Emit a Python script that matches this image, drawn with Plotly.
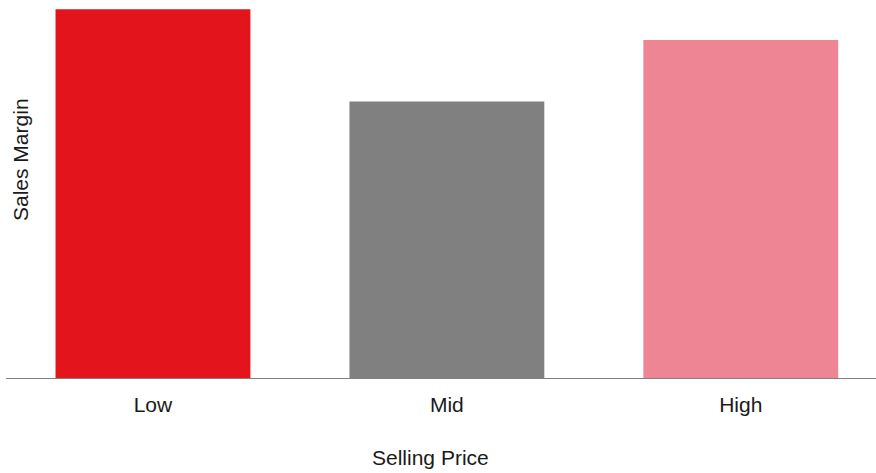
import plotly.graph_objects as go

# Sales margin by selling-price tier
categories = ["Low", "Mid", "High"]
margins = [12, 9, 11]
bar_colors = ["#E3141C", "#808080", "#EE8594"]

fig = go.Figure(
    go.Bar(
        x=categories,
        y=margins,
        marker=dict(color=bar_colors, line=dict(width=0)),
        hoverinfo="x+y",
    )
)

font = dict(family="Liberation Sans, Arial, sans-serif", size=21, color="#1a1a1a")

fig.update_layout(
    width=876,
    height=473,
    margin=dict(l=6, r=0, t=0, b=95),
    paper_bgcolor="white",
    plot_bgcolor="white",
    bargap=0.337,
    showlegend=False,
    font=font,
    xaxis=dict(
        range=[-0.5, 2.46],
        showline=True,
        linecolor="#808080",
        linewidth=1,
        showgrid=False,
        zeroline=False,
        ticks="",
        ticklabelstandoff=8,
        tickfont=font,
        automargin=False,
        fixedrange=True,
    ),
    yaxis=dict(
        range=[0, 12.3],
        showline=False,
        showgrid=False,
        zeroline=False,
        showticklabels=False,
        ticks="",
        automargin=False,
        fixedrange=True,
    ),
    annotations=[
        dict(
            text="Sales Margin",
            textangle=-90,
            xref="paper",
            yref="paper",
            x=0,
            y=(378 - 160) / 378,
            xanchor="center",
            yanchor="middle",
            xshift=14,
            showarrow=False,
            font=font,
        ),
        dict(
            text="Selling Price",
            xref="paper",
            yref="paper",
            x=(430 - 6) / 870,
            y=0,
            xanchor="center",
            yanchor="middle",
            yshift=-79,
            showarrow=False,
            font=font,
        ),
    ],
)

fig.write_html("out.html")
